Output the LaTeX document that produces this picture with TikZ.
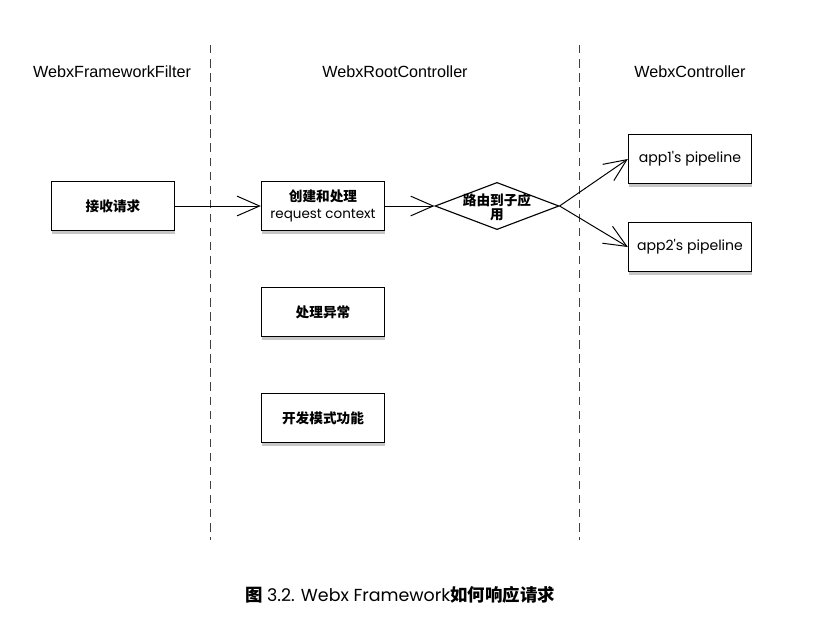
\documentclass[tikz,border=0pt]{standalone}
\usepackage{fontspec}
\setmainfont{Liberation Sans}
\newfontfamily\cjk{Noto Sans CJK SC}
\newfontfamily\geo{Poppins}
\usetikzlibrary{shapes.geometric,arrows.meta,shadows,positioning}

\tikzset{
  lane/.style={font=\fontsize{11.5}{14}\selectfont},
  sep/.style={dash pattern=on 6pt off 4pt, line width=0.6pt, black!75},
  box/.style={draw, line width=0.8pt, fill=white, minimum width=3.08cm, minimum height=1.22cm,
    inner sep=0pt, drop shadow={shadow xshift=0.6pt, shadow yshift=-2.6pt, opacity=0.45}},
  route/.style={diamond, draw, line width=0.8pt, fill=white, minimum width=3.1cm, minimum height=1.18cm, inner sep=0pt},
  flow/.style={line width=0.7pt, -{Straight Barb[length=16pt, width=14pt, line width=0.7pt]}},
  zh/.style={font=\cjk\bfseries\fontsize{9.7}{12}\selectfont},
}

\begin{document}
\begin{tikzpicture}[x=0.025cm, y=-0.025cm]
\useasboundingbox (0,0) rectangle (815,626);

% swimlane titles
\node[lane] (filter) at (112,72) {WebxFrameworkFilter};
\node[lane] (root) at (395,72) {WebxRootController};
\node[lane] (ctrl) at (690,72) {WebxController};

% lane separators
\draw[sep] (210,45) -- (210,540);
\draw[sep] (579,45) -- (579,540);

% steps
\node[box, zh] (recv) at (113,206) {接收请求};
\node[box, align=center, font=\fontsize{9.7}{12}\selectfont] (create) at (323,206)
  {{\cjk\bfseries 创建和处理}\\{\geo\fontsize{9.6}{12}\selectfont request context}};
\node[route] (route) at (497,206) {};
\node[zh, align=center, font=\cjk\bfseries\fontsize{9.7}{12}\selectfont] (routetxt) at (497,207) {路由到子应\\[-2pt]用};
\node[box, font=\geo\fontsize{10}{12}\selectfont] (app1) at (690,159) {app1's pipeline};
\node[box, font=\geo\fontsize{10}{12}\selectfont] (app2) at (690,247) {app2's pipeline};
\node[box, zh] (error) at (323,312) {处理异常};
\node[box, zh] (devmode) at (323,418) {开发模式功能};

\draw[flow] (recv) -- (create);
\draw[flow] (create) -- (route);
\draw[flow] (route.east) -- (app1.west);
\draw[flow] (route.east) -- (app2.west);

% caption
\node[font=\geo\fontsize{12.4}{14}\selectfont] (caption) at (400,595)
  {{\cjk\bfseries 图} 3.2. Webx Framework{\cjk\bfseries 如何响应请求}};
\end{tikzpicture}
\end{document}
